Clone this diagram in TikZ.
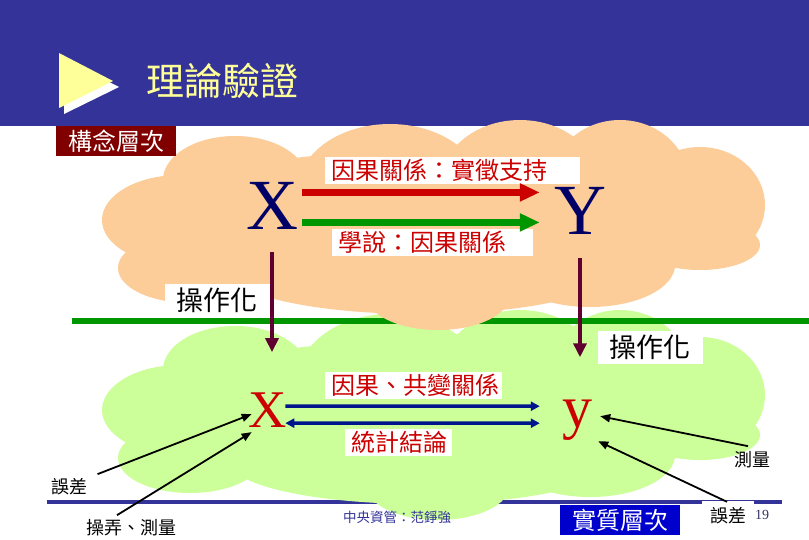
\documentclass[tikz,border=0pt]{standalone}
\usepackage{fontspec}
\setmainfont{Liberation Serif}
\newfontfamily\cjk{Noto Sans CJK TC}
\usepackage{xcolor}
\usetikzlibrary{arrows.meta,positioning}

\definecolor{bandblue}{RGB}{51,51,153}
\definecolor{titleyellow}{RGB}{255,255,153}
\definecolor{conceptred}{RGB}{128,0,0}
\definecolor{peach}{RGB}{252,204,153}
\definecolor{palegreen}{RGB}{204,255,153}
\definecolor{linegreen}{RGB}{0,150,0}
\definecolor{causered}{RGB}{204,0,0}
\definecolor{oparrow}{RGB}{96,0,48}
\definecolor{statblue}{RGB}{0,20,140}
\definecolor{varnavy}{RGB}{0,0,102}
\definecolor{realblue}{RGB}{0,0,204}

\begin{document}
\begin{tikzpicture}[
  x=1pt, y=-1pt,
  every node/.style={align=center},
  redlbl/.style={fill=white, text=causered, font=\cjk\fontsize{24}{28}\selectfont, inner xsep=6pt, inner ysep=1pt, minimum height=27pt, anchor=west, align=left},
  oplbl/.style={fill=white, font=\cjk\fontsize{27}{30}\selectfont, inner xsep=12pt, minimum height=33pt},
  levelbox/.style={text=white, font=\cjk\fontsize{24}{28}\selectfont, inner xsep=12pt, minimum height=30pt},
  smalllbl/.style={font=\cjk\fontsize{18}{20}\selectfont},
  bigvar/.style={font=\fontsize{72}{72}\selectfont, text=varnavy, inner sep=0pt, anchor=base},
  smallvar/.style={text=causered, inner sep=0pt, anchor=base},
  causal/.style={line width=6.5pt, -{Triangle[length=20pt,width=17pt]}},
  opline/.style={oparrow, line width=4pt, -{Triangle[length=14pt,width=13pt]}},
  statline/.style={statblue, line width=3.5pt},
  errline/.style={black, line width=1.8pt, -{Triangle[length=10pt,width=8pt]}},
  cloudblob/.pic={
    \fill (180,220) ellipse [x radius=78, y radius=45];
    \fill (190,268) ellipse [x radius=72, y radius=35];
    \fill (235,180) ellipse [x radius=72, y radius=44];
    \fill (390,190) ellipse [x radius=92, y radius=66];
    \fill (520,185) ellipse [x radius=80, y radius=65];
    \fill (620,185) ellipse [x radius=70, y radius=65];
    \fill (700,205) ellipse [x radius=65, y radius=58];
    \fill (700,245) ellipse [x radius=60, y radius=25];
    \fill (420,272) ellipse [x radius=190, y radius=42];
    \fill (438,295) ellipse [x radius=72, y radius=35];
    \fill (590,265) ellipse [x radius=85, y radius=42];
    \fill (430,225) ellipse [x radius=300, y radius=75];
  }
]
\useasboundingbox (0,0) rectangle (809,539);
\fill[white] (0,0) rectangle (809,539);

% HEADER
\fill[bandblue] (0,0) rectangle (809,126);
\fill[white] (64,59) -- (64,114) -- (119,87) -- cycle;
\fill[titleyellow] (59,53) -- (59,108) -- (113,81) -- cycle;
\node[text=titleyellow, font=\cjk\fontsize{38}{40}\selectfont] (title) at (222,81) {理論驗證};

% BACKGROUND LAYERS
\draw[bandblue, line width=3.5pt] (47,502) -- (782,502);
\pic[fill=palegreen] at (0,190) {cloudblob};
\draw[linegreen, line width=6pt] (72,321) -- (809,321);
\pic[fill=peach] at (0,0) {cloudblob};

% CONCEPT LEVEL
\node[levelbox, fill=conceptred] (concept) at (116,141) {構念層次};
\node[bigvar] (X) at (272,229) {X};
\node[bigvar] (Y) at (580,234) {Y};
\node[redlbl, text width=243pt] (cause) at (325,170) {因果關係：實徵支持};
\node[redlbl, text width=189pt] (theory) at (332,242) {學說：因果關係};

\draw[causal, causered] ([shift={(4,-13)}]X.east) -- ([shift={(-14,-18)}]Y.west);
\draw[causal, linegreen] ([shift={(4,17)}]X.east) -- ([shift={(-14,12)}]Y.west);

% OPERATIONALIZATION
\node[oplbl] (opleft) at (217,300) {操作化};
\node[oplbl] (opright) at (650,347) {操作化};

% REAL LEVEL
\node[smallvar, font=\fontsize{53}{53}\selectfont] (x) at (268,427) {X};
\node[smallvar, font=\fontsize{60}{60}\selectfont] (y) at (577,427) {y};
\node[redlbl, text width=165pt] (covar) at (325,385) {因果、共變關係};
\node[redlbl, text width=95pt] (stat) at (345,442) {統計結論};

\draw[opline] ([shift={(0,23)}]X.south) -- ([shift={(4,-40)}]x.north);
\draw[opline] ([shift={(0,24)}]Y.south) -- ([shift={(3,-42)}]y.north);

\draw[statline, -{Triangle[length=9pt,width=9pt]}] ([shift={(-2,-3.5)}]x.east) -- ([shift={(-22,-13.5)}]y.west);
\draw[statline, {Triangle[length=9pt,width=9pt]}-{Triangle[length=9pt,width=9pt]}] ([shift={(-2,13.5)}]x.east) -- ([shift={(-22,3.5)}]y.west);

% ERROR AND MEASUREMENT
\node[smalllbl] (errleft) at (69,487) {誤差};
\node[smalllbl] (manip) at (131,528) {操弄、測量};
\node[smalllbl] (measure) at (752,460) {測量};
\node[smalllbl, fill=white, minimum width=52pt, minimum height=30pt] (errright) at (728,516) {誤差};

\draw[errline] ([shift={(7,-1)}]errleft.north east) -- ([shift={(3,4.5)}]x.west);
\draw[errline] ([shift={(-14,-1)}]manip.north) -- ([shift={(3,22.5)}]x.west);
\draw[errline] ([shift={(-4,-2)}]measure.north) -- ([shift={(8,-3.5)}]y.east);
\draw[errline] ([shift={(-1,1)}]errright.north) -- ([shift={(6,21.5)}]y.east);

% FOOTER
\node[levelbox, fill=realblue] (real) at (620,520) {實質層次};
\node[text=bandblue, font=\cjk\fontsize{13.5}{15}\selectfont] (footer) at (397,517) {中央資管：范錚強};
\node[text={rgb,255:red,51;green,51;blue,102}, font=\fontsize{14}{14}\selectfont] (page) at (762,515) {19};

\end{tikzpicture}
\end{document}
